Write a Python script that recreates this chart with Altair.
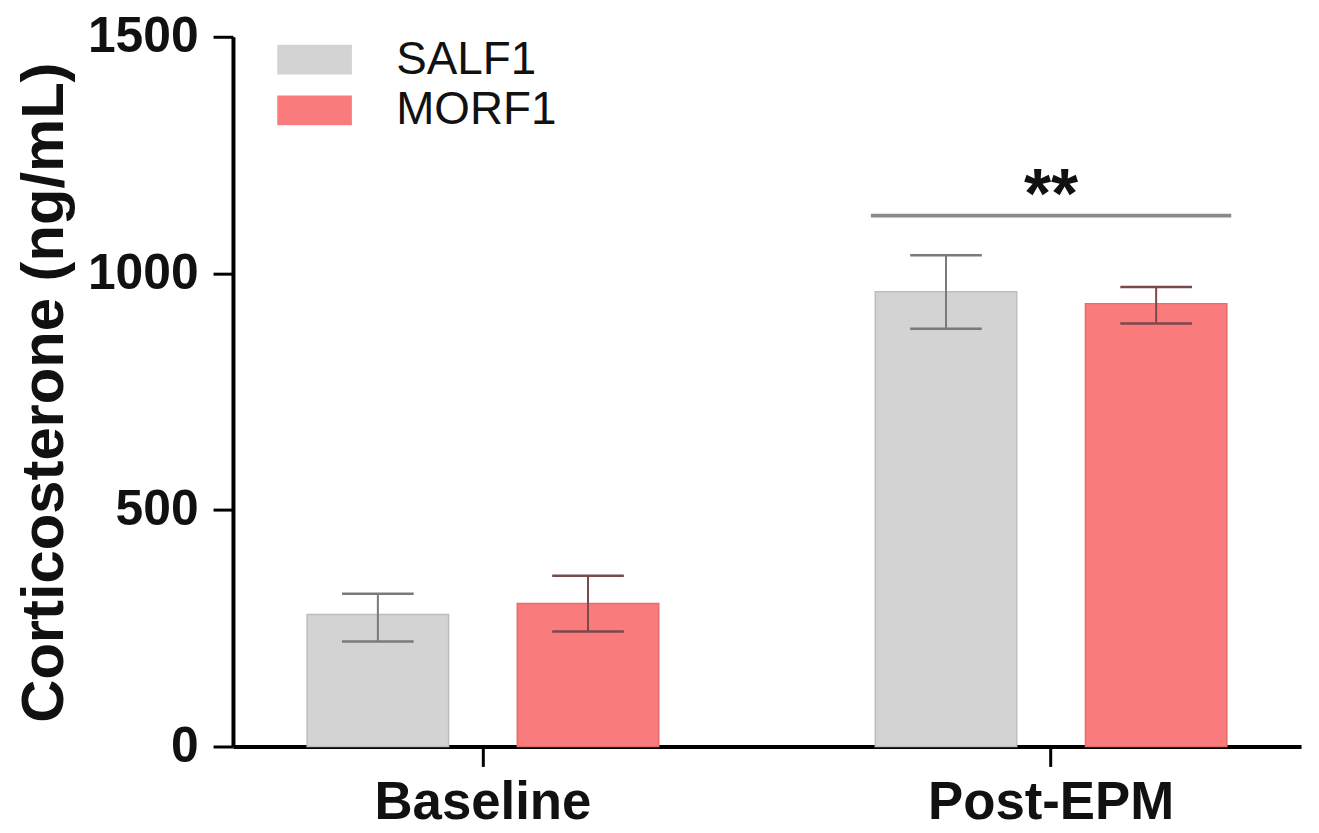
import altair as alt
import pandas as pd

# ---- data ----
groups = ["Baseline", "Baseline", "Post-EPM", "Post-EPM"]
treatments = ["SALF1", "MORF1", "SALF1", "MORF1"]
means = [279, 302, 961, 936]
err_lo = [222, 243, 883, 894]
err_hi = [323, 361, 1038, 971]

group_order = ["Baseline", "Post-EPM"]
treat_order = ["SALF1", "MORF1"]
bar_colors = ["#d3d3d3", "#fa7b7b"]
bar_strokes = ["#bdbdbd", "#e86b6b"]
err_colors = ["#7a7a7a", "#7a4a4a"]

y_ticks = [0, 500, 1000, 1500]

sig_group = ["Post-EPM"]
sig_value = [1122]
sig_label = ["**"]

FONT = "Liberation Sans"

df = pd.DataFrame({
    "group": groups,
    "treatment": treatments,
    "mean": means,
    "lo": err_lo,
    "hi": err_hi,
})
sig_df = pd.DataFrame({"group": sig_group, "value": sig_value, "label": sig_label})

x_enc = alt.X(
    "group:N",
    sort=group_order,
    scale=alt.Scale(domain=group_order, paddingInner=0.12, paddingOuter=0),
    axis=alt.Axis(
        title=None, labelAngle=0, labelFont=FONT, labelFontSize=53,
        labelFontWeight="bold", labelColor="#111", labelPadding=10, labelLimit=0,
        domainColor="#000", domainWidth=4, tickColor="#000", tickWidth=3,
        tickSize=20, grid=False,
    ),
)
xo_enc = alt.XOffset(
    "treatment:N",
    sort=treat_order,
    scale=alt.Scale(domain=treat_order, paddingInner=0.327, paddingOuter=0.353),
)
y_scale = alt.Scale(domain=[0, 1500], nice=False)
y_axis = alt.Axis(
    title="Corticosterone (ng/mL)", values=y_ticks, format="d",
    labelFont=FONT, labelFontSize=50, labelFontWeight="bold", labelColor="#111",
    labelPadding=15, labelLimit=0, domainColor="#000", domainWidth=4, tickColor="#000",
    tickWidth=3, tickSize=20, grid=False,
    titleFont=FONT, titleFontSize=60, titleFontWeight="bold", titleColor="#111",
    titleAngle=-90, titleX=-189, titleY=357, titleBaseline="middle", titleAlign="center",
)

color_scale = alt.Scale(domain=treat_order, range=bar_colors)
err_scale = alt.Scale(domain=treat_order, range=err_colors)

bars = alt.Chart(df).mark_bar(strokeWidth=1.5).encode(
    x=x_enc,
    xOffset=xo_enc,
    y=alt.Y("mean:Q", scale=y_scale, axis=y_axis),
    color=alt.Color(
        "treatment:N", sort=treat_order, scale=color_scale,
        legend=alt.Legend(
            title=None, orient="none", legendX=59, legendY=0,
            symbolType="M-2.5,-1H2.5V1H-2.5Z", symbolSize=900,
            symbolStrokeWidth=0, labelFont=FONT, labelFontSize=46,
            labelColor="#111", labelOffset=59, rowPadding=5,
            padding=0, labelLimit=0,
        ),
    ),
    stroke=alt.Stroke("treatment:N", sort=treat_order,
                      scale=alt.Scale(domain=treat_order, range=bar_strokes), legend=None),
)

err_rule = alt.Chart(df).mark_rule(strokeWidth=2).encode(
    x="group:N", xOffset=xo_enc,
    y=alt.Y("lo:Q", scale=y_scale), y2="hi:Q",
    color=alt.Color("treatment:N", sort=treat_order, scale=err_scale, legend=None),
)
cap_hi = alt.Chart(df).mark_tick(size=72, thickness=2.5, orient="horizontal", opacity=1).encode(
    x="group:N", xOffset=xo_enc, y=alt.Y("hi:Q", scale=y_scale),
    color=alt.Color("treatment:N", sort=treat_order, scale=err_scale, legend=None),
)
cap_lo = alt.Chart(df).mark_tick(size=72, thickness=2.5, orient="horizontal", opacity=1).encode(
    x="group:N", xOffset=xo_enc, y=alt.Y("lo:Q", scale=y_scale),
    color=alt.Color("treatment:N", sort=treat_order, scale=err_scale, legend=None),
)

sig_line = alt.Chart(sig_df).mark_tick(size=362, thickness=4, orient="horizontal",
                                       color="#8a8a8a", opacity=1).encode(
    x="group:N", y=alt.Y("value:Q", scale=y_scale),
)
sig_text = alt.Chart(sig_df).mark_text(
    font=FONT, fontSize=70, fontWeight="bold", color="#111",
    baseline="alphabetic", dy=2,
).encode(
    x="group:N", y=alt.Y("value:Q", scale=y_scale), text="label:N",
)

chart = alt.layer(bars, err_rule, cap_hi, cap_lo, sig_line, sig_text).resolve_scale(
    color="independent", stroke="independent"
).properties(
    width=1073, height=713,
    autosize=alt.AutoSizeParams(type="none"),
    padding={"left": 226, "top": 27, "right": 10, "bottom": 85},
    background="white",
).configure_view(stroke=None)

chart.save("out.html", embed_options={"renderer": "svg", "actions": False})
